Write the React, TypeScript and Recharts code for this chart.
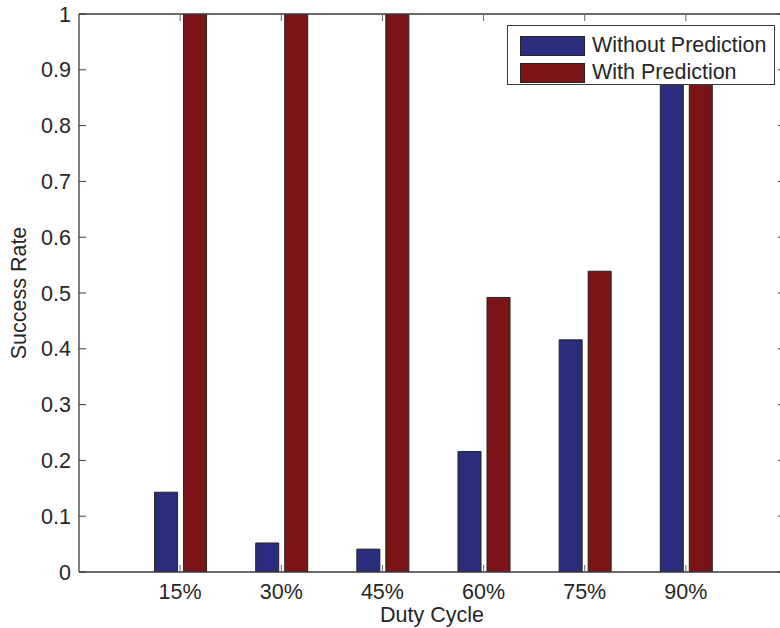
import React from 'react';
import { BarChart, Bar, XAxis, YAxis, Legend } from 'recharts';

const categories = ['15%', '30%', '45%', '60%', '75%', '90%'];
const withoutPrediction = [0.143, 0.052, 0.041, 0.216, 0.416, 0.93];
const withPrediction = [1, 1, 1, 0.492, 0.539, 0.95];
const yTicks = [0, 0.1, 0.2, 0.3, 0.4, 0.5, 0.6, 0.7, 0.8, 0.9, 1];
const yTickLabels = ['0', '0.1', '0.2', '0.3', '0.4', '0.5', '0.6', '0.7', '0.8', '0.9', '1'];

const BLUE = '#2a2d7e';
const RED = '#7c1417';
const FONT = '"Liberation Sans", Arial, Helvetica, sans-serif';
const FS = 21.5;
const TEXT = '#262626';
const AXIS = '#3a3a3a';

const data = categories.map((c, i) => ({
  x: i + 1,
  label: c,
  without: withoutPrediction[i],
  withP: withPrediction[i],
}));
const xTicks = data.map((d) => d.x);

const BottomTick = (props: any) => {
  const { x, y, payload } = props;
  return (
    <g>
      <line x1={x} x2={x} y1={y} y2={y - 7} stroke="#666" strokeWidth={1} />
      <text x={x} y={y + 27} textAnchor="middle" fontSize={FS} fontFamily={FONT} fill={TEXT}>
        {categories[payload.value - 1]}
      </text>
    </g>
  );
};

const TopTick = (props: any) => {
  const { x, y } = props;
  return <line x1={x} x2={x} y1={y} y2={y + 7} stroke="#666" strokeWidth={1} />;
};

const LeftTick = (props: any) => {
  const { x, y, payload, index } = props;
  return (
    <g>
      <line x1={x} x2={x + 7} y1={y} y2={y} stroke={AXIS} strokeWidth={1} />
      <text x={x - 8} y={y + 7.5} textAnchor="end" fontSize={FS} fontFamily={FONT} fill={TEXT}>
        {yTickLabels[index] ?? String(payload.value)}
      </text>
    </g>
  );
};

const RightTick = (props: any) => {
  const { x, y } = props;
  return <line x1={x} x2={x - 9} y1={y} y2={y} stroke={AXIS} strokeWidth={1} />;
};

const LegendContent = () => {
  const rows = [
    { name: 'Without Prediction', color: BLUE },
    { name: 'With Prediction', color: RED },
  ];
  return (
    <div
      style={{
        boxSizing: 'border-box',
        width: 268,
        height: 60,
        border: `1px solid ${AXIS}`,
        background: '#fff',
        paddingTop: 6,
        paddingLeft: 12,
      }}
    >
      {rows.map((r) => (
        <div key={r.name} style={{ display: 'flex', alignItems: 'center', height: 27 }}>
          <div
            style={{
              boxSizing: 'border-box',
              width: 65,
              height: 20,
              background: r.color,
              border: '1px solid #222',
              marginRight: 7,
            }}
          />
          <span style={{ fontFamily: FONT, fontSize: FS, color: TEXT, lineHeight: '27px', whiteSpace: 'nowrap' }}>{r.name}</span>
        </div>
      ))}
    </div>
  );
};

export default function App() {
  return (
    <div style={{ position: 'absolute', left: 0, top: 0, width: 780, height: 628, overflow: 'hidden', background: '#fff' }}>
      <BarChart
        width={788}
        height={628}
        data={data}
        margin={{ top: 0, right: 0, bottom: 0, left: 0 }}
        barGap={6}
      >
        <XAxis
          dataKey="x"
          type="number"
          domain={[0, 7]}
          ticks={xTicks}
          allowDataOverflow
          height={56}
          tickSize={0}
          tickMargin={0}
          tickLine={false}
          axisLine={{ stroke: AXIS, strokeWidth: 1.3 }}
          tick={<BottomTick />}
          interval={0}
        />
        <XAxis
          xAxisId="top"
          dataKey="x"
          type="number"
          orientation="top"
          domain={[0, 7]}
          ticks={xTicks}
          allowDataOverflow
          height={14}
          tickSize={0}
          tickMargin={0}
          tickLine={false}
          axisLine={{ stroke: AXIS, strokeWidth: 1.3 }}
          tick={<TopTick />}
          interval={0}
        />
        <YAxis
          type="number"
          domain={[0, 1]}
          ticks={yTicks}
          allowDataOverflow
          width={79}
          tickSize={0}
          tickMargin={0}
          tickLine={false}
          axisLine={{ stroke: AXIS, strokeWidth: 1.3 }}
          tick={<LeftTick />}
          interval={0}
          label={{
            value: 'Success Rate',
            angle: -90,
            position: 'insideLeft',
            offset: 0,
            style: { fontFamily: FONT, fontSize: FS, fill: TEXT, textAnchor: 'middle' },
            dx: 18,
            dy: 0,
          }}
        />
        <YAxis
          yAxisId="right"
          orientation="right"
          type="number"
          domain={[0, 1]}
          ticks={yTicks}
          allowDataOverflow
          width={1}
          tickSize={0}
          tickMargin={0}
          tickLine={false}
          axisLine={false}
          tick={<RightTick />}
          interval={0}
        />
        <Legend
          layout="horizontal"
          verticalAlign="middle"
          align="center"
          content={<LegendContent />}
          wrapperStyle={{ left: 507, top: 25, width: 268, height: 60 }}
        />
        <Bar dataKey="without" name="Without Prediction" fill={BLUE} stroke="#222" strokeWidth={1} barSize={23} isAnimationActive={false} />
        <Bar dataKey="withP" name="With Prediction" fill={RED} stroke="#222" strokeWidth={1} barSize={23} isAnimationActive={false} />
        <text x={432} y={622} textAnchor="middle" fontSize={FS} fontFamily={FONT} fill={TEXT}>
          Duty Cycle
        </text>
      </BarChart>
    </div>
  );
}
